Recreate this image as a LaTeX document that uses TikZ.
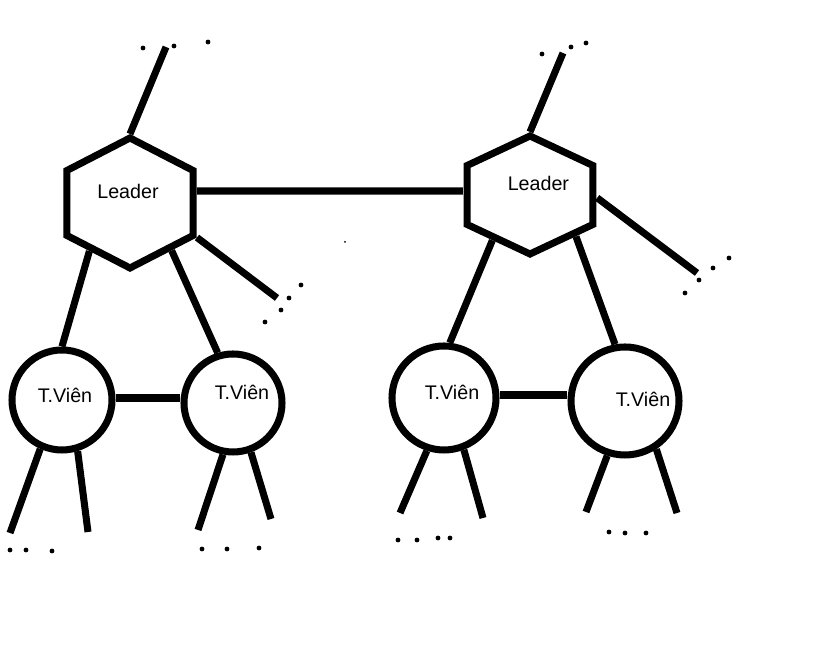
\documentclass[tikz,border=0pt]{standalone}
\usepackage{fontspec}
\setmainfont{Liberation Sans}
\usetikzlibrary{shapes.geometric}

\begin{document}
\begin{tikzpicture}[x=1cm,y=1cm]
\tikzset{
  leaderhex/.style={regular polygon,regular polygon sides=6,shape border rotate=30,draw,line width=5pt,inner sep=0pt},
  membernode/.style={circle,draw,line width=5pt,inner sep=0pt},
  nodetext/.style={anchor=base,inner sep=0pt,font=\fontsize{14}{16}\selectfont},
  link/.style={line width=5pt},
  dotmark/.style={fill=black}
}
\useasboundingbox (0,0) rectangle (20.725,16.725);
\node[leaderhex,minimum size=3.25cm,xscale=1.12] (n_L1) at (3.25,11.65) {};
\node[leaderhex,minimum size=2.95cm,xscale=1.23] (n_L2) at (13.25,11.85) {};
\node[nodetext] (t_L1) at (3.20,11.75) {Leader};
\node[nodetext] (t_L2) at (13.46,11.95) {Leader};
\node[membernode,minimum size=2.50cm] (n_M1) at (1.55,6.725) {};
\node[membernode,minimum size=2.45cm] (n_M2) at (5.825,6.65) {};
\node[membernode,minimum size=2.60cm] (n_M3) at (11.10,6.775) {};
\node[membernode,minimum size=2.70cm] (n_M4) at (15.625,6.70) {};
\node[nodetext] (t_M1) at (1.625,6.65) {T.Viên};
\node[nodetext] (t_M2) at (6.05,6.725) {T.Viên};
\node[nodetext] (t_M3) at (11.30,6.725) {T.Viên};
\node[nodetext] (t_M4) at (16.075,6.55) {T.Viên};
% free ends
\coordinate (c_up1) at (4.15,15.55);
\coordinate (c_out1) at (6.925,9.275);
\coordinate (c_up2) at (14.075,15.40);
\coordinate (c_out2) at (17.425,9.90);
\coordinate (c_leg1a) at (0.25,3.40);
\coordinate (c_leg1b) at (2.20,3.425);
\coordinate (c_leg2a) at (4.95,3.475);
\coordinate (c_leg2b) at (6.775,3.75);
\coordinate (c_leg3a) at (10.00,3.90);
\coordinate (c_leg3b) at (12.075,3.775);
\coordinate (c_leg4a) at (14.65,3.925);
\coordinate (c_leg4b) at (16.925,3.90);
% leaders
\draw[link] ([yshift=0.3cm]n_L1.east) -- ([yshift=0.1cm]n_L2.west);
\draw[link] (n_L1.north) -- (c_up1);
\draw[link] (n_L1.-30) -- (c_out1);
\draw[link] (n_L1.-127) -- (n_M1.north);
\draw[link] (n_L1.-52) -- (n_M2.107);
\draw[link] (n_L2.north) -- (c_up2);
\draw[link] (n_L2.-3) -- (c_out2);
\draw[link] (n_L2.-124) -- (n_M3.84);
\draw[link] (n_L2.-48) -- (n_M4.100);
% members
\draw[link] ([yshift=0.05cm]n_M1.east) -- ([yshift=0.05cm]n_M1.east -| n_M2.west);
\draw[link] ([yshift=0.075cm]n_M3.east) -- ([yshift=0.075cm]n_M3.east -| n_M4.west);
\draw[link] (n_M1.-114) -- (c_leg1a);
\draw[link] (n_M1.-73) -- (c_leg1b);
\draw[link] (n_M2.-101) -- (c_leg2a);
\draw[link] (n_M2.-70) -- (c_leg2b);
\draw[link] (n_M3.-108) -- (c_leg3a);
\draw[link] (n_M3.-69) -- (c_leg3b);
\draw[link] (n_M4.-108) -- (c_leg4a);
\draw[link] (n_M4.-57) -- (c_leg4b);
% dots
\foreach \px/\py in {3.575/15.525,4.35/15.575,5.20/15.675,
    7.525/9.60,7.225/9.275,7.025/8.975,6.625/8.675,
    13.55/15.375,14.275/15.55,14.65/15.65,
    18.225/10.275,17.825/10.025,17.475/9.725,17.125/9.40,
    0.25/2.975,0.65/2.975,1.30/2.95,
    5.05/3.00,5.675/3.00,6.475/3.025,
    9.95/3.225,10.425/3.225,10.95/3.275,11.25/3.275,
    15.225/3.425,15.625/3.40,16.15/3.40}
  \fill[dotmark] (\px,\py) circle (0.06);
\fill[dotmark] (8.625,10.675) circle (0.025);
\end{tikzpicture}
\end{document}
